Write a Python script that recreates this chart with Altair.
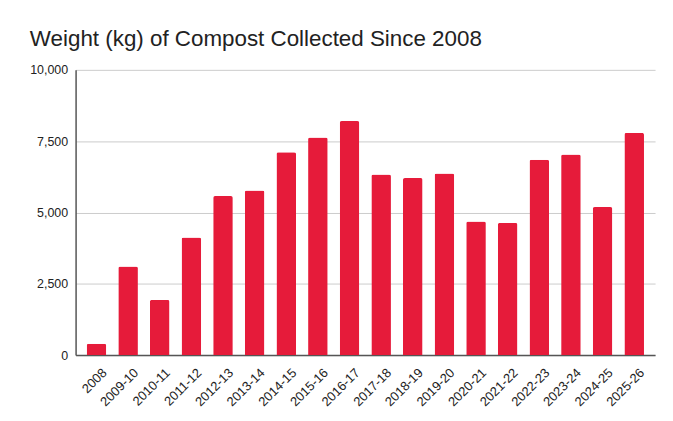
import altair as alt
import pandas as pd

seasons = ["2008", "2009-10", "2010-11", "2011-12", "2012-13", "2013-14", "2014-15",
           "2015-16", "2016-17", "2017-18", "2018-19", "2019-20", "2020-21", "2021-22",
           "2022-23", "2023-24", "2024-25", "2025-26"]
weights = [400, 3105, 1935, 4120, 5575, 5775, 7110, 7625, 8205, 6335, 6205, 6365,
           4680, 4635, 6845, 7030, 5190, 7790]
y_ticks = [0, 2500, 5000, 7500, 10000]

df = pd.DataFrame({"season": seasons, "weight": weights})

chart = alt.Chart(df).mark_bar(
    color="#E61B3A", cornerRadiusTopLeft=2, cornerRadiusTopRight=2
).encode(
    x=alt.X("season:N", sort=seasons, title=None,
            scale=alt.Scale(paddingInner=0.38, paddingOuter=0.35),
            axis=alt.Axis(labelAngle=-45, labelAlign="right", labelBaseline="top",
                          labelFontSize=13, labelColor="#222222", ticks=False,
                          labelPadding=11, labelOffset=4, domainColor="#555555",
                          domainWidth=1.5, labelFont="Liberation Sans")),
    y=alt.Y("weight:Q", title=None,
            scale=alt.Scale(domain=[0, 10000], nice=False),
            axis=alt.Axis(values=y_ticks, format=",d", ticks=False, labelPadding=8,
                          labelFontSize=12.5, labelColor="#222222", gridColor="#cccccc",
                          domainColor="#555555", domainWidth=1.5,
                          labelFont="Liberation Sans")),
).properties(
    width=583, height=287,
    title=alt.TitleParams("Weight (kg) of Compost Collected Since 2008", anchor="start",
                          frame="group", fontSize=22.5, fontWeight="normal",
                          font="Liberation Sans", color="#222222", dx=-46, offset=14),
    autosize=alt.AutoSizeParams(type="none"),
    padding={"left": 68, "top": 61, "right": 10, "bottom": 57},
).configure_view(stroke=None)

chart.save("out.html", embed_options={"renderer": "svg", "actions": False})
